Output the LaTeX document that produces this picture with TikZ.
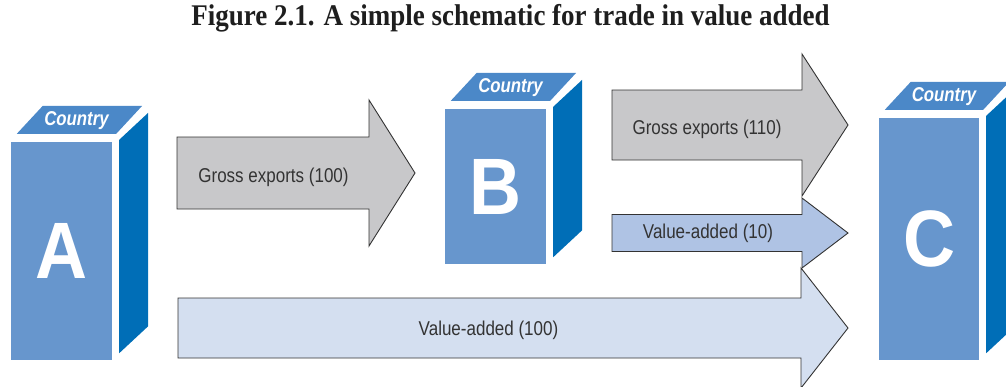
\documentclass[tikz,border=0pt]{standalone}
\usepackage{fontspec}
\setmainfont{Liberation Serif}
\setsansfont{Liberation Sans}
\usetikzlibrary{calc}

\definecolor{frontblue}{HTML}{6796CD}
\definecolor{sideblue}{HTML}{006EB7}
\definecolor{topblue}{HTML}{4B88C8}
\definecolor{grossgray}{HTML}{C8C8CA}
\definecolor{vasmall}{HTML}{AFC3E4}
\definecolor{valarge}{HTML}{D4DFF0}
\definecolor{edgegray}{HTML}{333333}
\definecolor{labelgray}{HTML}{333333}
\definecolor{titlegray}{HTML}{1E1E1E}

\tikzset{
  front/.style={fill=frontblue, inner sep=0pt, text=white,
    font=\sffamily\bfseries\fontsize{80}{80}\selectfont},
  topface/.style={fill=topblue},
  sideface/.style={fill=sideblue},
  countrylabel/.style={anchor=base, text=white, inner sep=0pt,
    font=\sffamily\bfseries\itshape\fontsize{20}{20}\selectfont},
  flowlabel/.style={anchor=base, text=labelgray, inner sep=0pt,
    font=\sffamily\fontsize{20}{20}\selectfont},
  blockarrow/.style={draw=edgegray, line width=0.9pt, line join=miter},
}

% top and side faces of a country block, drawn around its front node
\newcommand\countryfaces[1]{%
  \fill[topface] ($(#1.north west)+(6,-8)$) -- ($(#1.north west)+(32,-36)$)
    -- ($(#1.north east)+(30,-36)$) -- ($(#1.north east)+(4,-8)$) -- cycle;
  \fill[sideface] ($(#1.north east)+(7,-2)$) -- ($(#1.north east)+(36,-29)$)
    -- ($(#1.south east)+(36,-34)$) -- ($(#1.south east)+(7,-7)$) -- cycle;
  \node[countrylabel] (#1-country) at ($(#1.north)+(15,-16.5)$)
    {\scalebox{0.84}[1]{Country}};
}

\begin{document}
\begin{tikzpicture}[x=1pt, y=-1pt]
\useasboundingbox (0,0) rectangle (1006,386);
\clip (0,0) rectangle (1006,386);

% title
\node[anchor=base, inner sep=0pt, text=titlegray,
  font=\bfseries\fontsize{30}{30}\selectfont] (title) at (510.5,25)
  {\scalebox{0.9}[1]{Figure 2.1. A simple schematic for trade in value added}};

% country blocks
\node[front, minimum width=101pt, minimum height=218pt] (A) at (61.5,251) {\scalebox{0.9}[1]{A}};
\countryfaces{A}
\node[front, minimum width=101pt, minimum height=155pt] (B) at (495.5,186.5) {\scalebox{0.9}[1]{B}};
\countryfaces{B}
\node[front, minimum width=100pt, minimum height=242pt] (C) at (929,239) {\scalebox{0.9}[1]{C}};
\countryfaces{C}

% value added from A to C
\draw[blockarrow, fill=valarge] (178,298) -- (801,298) -- (801,268) -- (848,328)
  -- (801,388) -- (801,358) -- (178,358) -- cycle;
\node[flowlabel] (va100) at (488.5,335) {\scalebox{0.85}[1]{Value-added (100)}};

% value added in B, from B to C
\draw[blockarrow, fill=vasmall] (612,214.5) -- (802,214.5) -- (802,198) -- (848,233)
  -- (802,268) -- (802,251.5) -- (612,251.5) -- cycle;
\node[flowlabel] (va10) at (708,238) {\scalebox{0.85}[1]{Value-added (10)}};

% gross exports from B to C
\draw[blockarrow, fill=grossgray] (612,90) -- (802,90) -- (802,54) -- (848,125)
  -- (802,196) -- (802,160) -- (612,160) -- cycle;
\node[flowlabel] (gross110) at (707,134.5) {\scalebox{0.85}[1]{Gross exports (110)}};

% gross exports from A to B
\draw[blockarrow, fill=grossgray] (177,137) -- (369,137) -- (369,100) -- (415,173)
  -- (369,246) -- (369,209) -- (177,209) -- cycle;
\node[flowlabel] (gross100) at (273.5,182) {\scalebox{0.85}[1]{Gross exports (100)}};
\end{tikzpicture}
\end{document}
